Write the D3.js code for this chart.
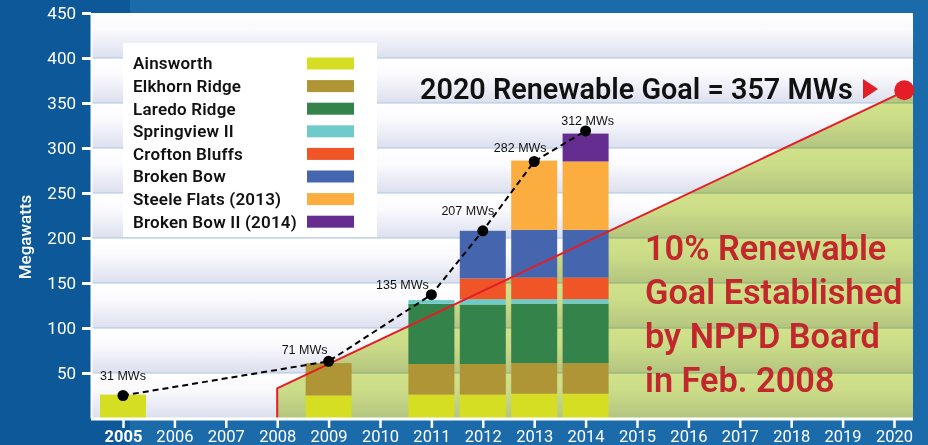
<!DOCTYPE html>
<html>
<head>
<meta charset="utf-8">
<script src="https://cdn.jsdelivr.net/npm/d3@7"></script>
<style>
  body { margin: 0; background: #1a6aab; }
  svg { display: block; }
</style>
</head>
<body>
<div class="chart"></div>
<script>
var width = 928, height = 445;
var plot = {left: 91, right: 913, top: 13, bottom: 418};
var font = 'Roboto';

// data
var years = [2005, 2009, 2011, 2012, 2013, 2014];
var ainsworth  = [26, 25, 26, 26, 27, 27];
var elkhorn    = [0, 36, 34, 34, 34, 34];
var laredo     = [0, 0, 67, 66, 66, 66];
var springview = [0, 0, 4, 6, 5, 5];
var crofton    = [0, 0, 0, 23, 24, 24];
var brokenBow  = [0, 0, 0, 53, 53, 53];
var steele     = [0, 0, 0, 0, 77, 76];
var brokenBow2 = [0, 0, 0, 0, 0, 31];

var projects = ["Ainsworth", "Elkhorn Ridge", "Laredo Ridge", "Springview II",
  "Crofton Bluffs", "Broken Bow", "Steele Flats (2013)", "Broken Bow II (2014)"];
var colours = ["#d5de23", "#b09537", "#33834a", "#6fcbc9", "#f05528", "#4566ae", "#fbae3f", "#662d91"];

var totalYears = [2005, 2009, 2011, 2012, 2013, 2014];
var totalDots = [25, 63, 137, 208, 285, 319];
var totalLabels = ["31 MWs", "71 MWs", "135 MWs", "207 MWs", "282 MWs", "312 MWs"];

var goalYears = [2008, 2008, 2020.2];
var goalValues = [0, 33, 363];

var tickYears = d3.range(2005, 2021);
var yTicks = d3.range(50, 451, 50);

// label nudges (px) for the total labels
var labelDx = [0, -24, -29, -15, -14, 2];
var labelDy = [-20, -12, -10, -20, -14, -10];

var svg = d3.select(".chart").append("svg")
  .attr("width", width)
  .attr("height", height);

var defs = svg.append("defs");
var band = defs.append("linearGradient").attr("id", "band")
  .attr("x1", 0).attr("y1", 0).attr("x2", 0).attr("y2", 1);
band.append("stop").attr("offset", "0%").attr("stop-color", "#ffffff");
band.append("stop").attr("offset", "35%").attr("stop-color", "#fbfbfe");
band.append("stop").attr("offset", "100%").attr("stop-color", "#dcdfee");

// background
svg.append("rect").attr("width", width).attr("height", height).attr("fill", "#1b6bab");
svg.append("rect").attr("width", 130).attr("height", height).attr("fill", "#0c5898");

var x = d3.scaleLinear().domain([2005, 2020]).range([123, 894]);
var y = d3.scaleLinear().domain([0, 450]).range([plot.bottom, plot.top]);

// banded plot background
svg.append("g").selectAll("rect")
  .data(d3.range(0, 450, 50))
  .join("rect")
    .attr("x", plot.left)
    .attr("y", d => y(d + 50))
    .attr("width", plot.right - plot.left)
    .attr("height", d => y(d) - y(d + 50))
    .attr("fill", "url(#band)");

svg.append("g").selectAll("line")
  .data(d3.range(50, 450, 50))
  .join("line")
    .attr("x1", plot.left).attr("x2", plot.right)
    .attr("y1", d => y(d)).attr("y2", d => y(d))
    .attr("stroke", "#aec6e0")
    .attr("stroke-width", 1);

// goal area
var goal = goalYears.map((d, i) => [d, goalValues[i]]);
var areaPts = goal.concat([[x.invert(plot.right), goalValues[2]], [x.invert(plot.right), 0]]);
svg.append("path")
  .attr("d", d3.line().x(d => x(d[0])).y(d => y(d[1]))(areaPts) + "Z")
  .attr("fill", "#d0e189")
  .style("mix-blend-mode", "multiply");

// stacked bars
var series = [ainsworth, elkhorn, laredo, springview, crofton, brokenBow, steele, brokenBow2];
var rows = years.map((yr, i) => {
  var r = {year: yr};
  projects.forEach((p, k) => r[p] = series[k][i]);
  return r;
});
var stack = d3.stack().keys(projects)(rows);
var barW = 46;

svg.append("g").selectAll("g")
  .data(stack)
  .join("g")
    .attr("fill", (d, i) => colours[i])
  .selectAll("rect")
  .data(d => d.filter(s => s[1] > s[0]))
  .join("rect")
    .attr("x", d => x(d.data.year) - barW / 2)
    .attr("y", d => y(d[1]))
    .attr("width", barW)
    .attr("height", d => y(d[0]) - y(d[1]));

// goal line
svg.append("path")
  .attr("d", d3.line().x(d => x(d[0])).y(d => y(d[1]))(goal))
  .attr("fill", "none")
  .attr("stroke", "#e31e26")
  .attr("stroke-width", 2);

svg.append("circle")
  .attr("cx", x(goal[2][0]))
  .attr("cy", y(goal[2][1]) - 1)
  .attr("r", 10)
  .attr("fill", "#e31e26");

// total dashed line
var totals = totalYears.map((d, i) => [d, totalDots[i]]);
svg.append("path")
  .attr("d", d3.line().x(d => x(d[0])).y(d => y(d[1]))(totals))
  .attr("fill", "none")
  .attr("stroke", "#000")
  .attr("stroke-width", 2)
  .attr("stroke-dasharray", "6,4");

svg.append("g").selectAll("circle")
  .data(totals)
  .join("circle")
    .attr("cx", d => x(d[0]))
    .attr("cy", d => y(d[1]))
    .attr("r", 5.5)
    .attr("fill", "#000");

svg.append("g").selectAll("text")
  .data(totals)
  .join("text")
    .attr("x", (d, i) => x(d[0]) + labelDx[i])
    .attr("y", (d, i) => y(d[1]) + labelDy[i])
    .attr("dy", "0.35em")
    .attr("text-anchor", "middle")
    .attr("font-family", "Liberation Sans, Arial")
    .attr("font-size", 12.5)
    .attr("fill", "#111")
    .text((d, i) => totalLabels[i]);

// legend
var legend = svg.append("g").attr("transform", "translate(123,43)");
legend.append("rect").attr("width", 254).attr("height", 194).attr("fill", "#fff");
var item = legend.selectAll("g.item")
  .data(projects)
  .join("g")
    .attr("class", "item")
    .attr("transform", (d, i) => `translate(0,${20.5 + i * 22.6})`);
item.append("text")
  .attr("x", 10)
  .attr("dy", "0.35em")
  .attr("font-family", font)
  .attr("font-weight", 600)
  .attr("font-size", 17)
  .attr("letter-spacing", 0.2)
  .attr("fill", "#111")
  .text(d => d);
item.append("rect")
  .attr("x", 184).attr("y", -6)
  .attr("width", 47).attr("height", 12)
  .attr("fill", (d, i) => colours[i]);

// annotations
svg.append("text")
  .attr("x", 420).attr("y", 99)
  .attr("font-family", font)
  .attr("font-weight", 600)
  .attr("font-size", 28.8)
  .attr("fill", "#111")
  .text("2020 Renewable Goal = 357 MWs");

svg.append("path")
  .attr("d", "M863,79L878,89L863,99Z")
  .attr("fill", "#e31e26");

var note = ["10% Renewable", "Goal Established", "by NPPD Board", "in Feb. 2008"];
svg.append("g").selectAll("text")
  .data(note)
  .join("text")
    .attr("x", 645)
    .attr("y", (d, i) => 260 + i * 44)
    .attr("font-family", font)
    .attr("font-weight", 600)
    .attr("font-size", 34.3)
    .attr("fill", "#c1272d")
    .text(d => d);

// axes
var yAxis = svg.append("g")
  .attr("transform", `translate(${plot.left},0)`)
  .call(d3.axisLeft(y).tickValues(yTicks).tickSize(9).tickPadding(6).tickSizeOuter(0));
yAxis.select(".domain").attr("stroke", "#fff").attr("stroke-width", 2);
yAxis.selectAll(".tick line").attr("stroke", "#fff").attr("stroke-width", 3);
yAxis.selectAll("text")
  .attr("fill", "#fff")
  .attr("font-family", font)
  .attr("font-size", 17);

var xAxis = svg.append("g")
  .attr("transform", `translate(0,${plot.bottom + 1})`)
  .call(d3.axisBottom(x).tickValues(tickYears).tickFormat(d3.format("d")).tickSize(9).tickPadding(2).tickSizeOuter(0));
xAxis.select(".domain").remove();
xAxis.append("line")
  .attr("x1", plot.left).attr("x2", plot.right)
  .attr("stroke", "#fff").attr("stroke-width", 3);
xAxis.selectAll(".tick line").attr("stroke", "#fff").attr("stroke-width", 2.5);
xAxis.selectAll("text")
  .attr("fill", "#fff")
  .attr("font-family", font)
  .attr("font-size", 16.5)
  .attr("font-weight", d => d === 2005 ? 700 : 400);

svg.append("text")
  .attr("transform", "translate(31,237)rotate(-90)")
  .attr("text-anchor", "middle")
  .attr("font-family", font)
  .attr("font-weight", 500)
  .attr("font-size", 17)
  .attr("fill", "#fff")
  .text("Megawatts");
</script>
</body>
</html>
